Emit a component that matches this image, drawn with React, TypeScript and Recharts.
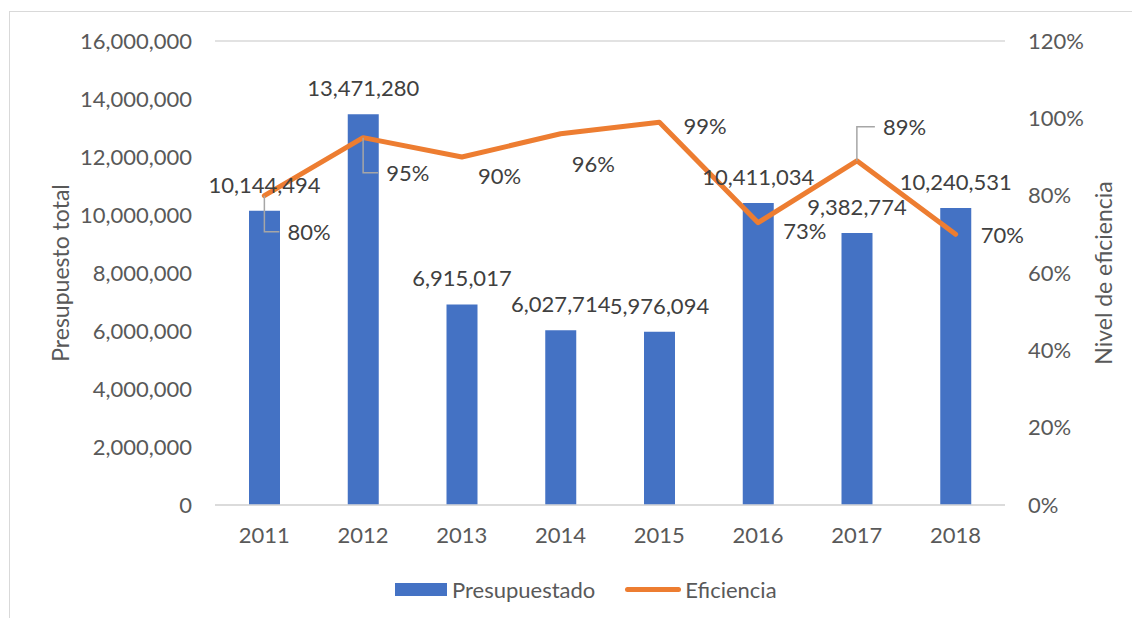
import React from "react";
import {
  ComposedChart,
  Bar,
  Line,
  XAxis,
  YAxis,
  CartesianGrid,
  Legend,
  LabelList,
} from "recharts";

const years = ["2011", "2012", "2013", "2014", "2015", "2016", "2017", "2018"];
const presupuestado = [
  10144494, 13471280, 6915017, 6027714, 5976094, 10411034, 9382774, 10240531,
];
const eficiencia = [0.8, 0.95, 0.9, 0.96, 0.99, 0.73, 0.89, 0.7];
const budgetTicks = [0, 2000000, 4000000, 6000000, 8000000, 10000000, 12000000, 14000000, 16000000];
const efficiencyTicks = [0, 0.2, 0.4, 0.6, 0.8, 1.0, 1.2];

const data = years.map((year, i) => ({
  year,
  presupuestado: presupuestado[i],
  eficiencia: eficiencia[i],
}));

// where Excel left each percentage label, relative to its point (dx to text start, dy to text middle)
const lineLabelNudge = [
  [23, 36],
  [23, 35],
  [16, 19],
  [11, 30],
  [24, 4],
  [25, 8],
  [26, -34],
  [25, 1],
];

const FONT = "Lato, 'Noto Sans', sans-serif";
const BLUE = "#4472C4";
const ORANGE = "#ED7D31";
const GREY = "#595959";

const fmtNumber = (v: number) => v.toLocaleString("en-US");
const fmtPct = (v: number) => `${Math.round(v * 100)}%`;

const PctLabel = (props: any) => {
  const { x, y, value, index } = props;
  const [dx, dy] = lineLabelNudge[index] || [20, 0];
  const tx = x + dx;
  const ty = y + dy;
  return (
    <g>
      {Math.abs(dy) > 32 && (
        <path
          d={`M${x},${y} V${ty} H${tx - 8}`}
          fill="none"
          stroke="#a6a6a6"
          strokeWidth={1.5}
        />
      )}
      <text
        x={tx}
        y={ty}
        dy="0.36em"
        fill="#404040"
        fontSize={22}
        fontFamily={FONT}
      >
        {fmtPct(value)}
      </text>
    </g>
  );
};

const AxisTitle = ({ viewBox, value, dx }: any) => {
  const x = viewBox.x + dx;
  const y = viewBox.y + viewBox.height / 2;
  return (
    <text
      x={x}
      y={y}
      transform={`rotate(-90 ${x} ${y})`}
      textAnchor="middle"
      dominantBaseline="central"
      fill={GREY}
      fontSize={23}
      fontFamily={FONT}
    >
      {value}
    </text>
  );
};

const ChartLegend = () => (
  <div
    style={{
      display: "flex",
      alignItems: "center",
      height: 30,
      fontFamily: FONT,
      fontSize: 22,
      color: GREY,
    }}
  >
    <span style={{ width: 52, height: 13, background: BLUE, marginRight: 5 }} />
    <span>Presupuestado</span>
    <span
      style={{
        width: 56,
        height: 5,
        borderRadius: 3,
        background: ORANGE,
        marginLeft: 30,
        marginRight: 4,
      }}
    />
    <span>Eficiencia</span>
  </div>
);

export default function App() {
  return (
    <div style={{ position: "relative", width: 1132, height: 610, overflow: "hidden" }}>
      <div
        style={{
          position: "absolute",
          left: 1,
          top: 3,
          width: 1300,
          height: 800,
          border: "1px solid #d9d9d9",
        }}
      />
      <ComposedChart
        width={1132}
        height={610}
        data={data}
        margin={{ top: 33, right: 0, bottom: 0, left: 0 }}
        style={{ position: "absolute", left: 0, top: 0 }}
      >
        <CartesianGrid vertical={false} stroke="#d9d9d9" strokeWidth={1.5} />
        <XAxis
          dataKey="year"
          height={83}
          axisLine={{ stroke: "#d9d9d9", strokeWidth: 1.5 }}
          tickLine={false}
          tickMargin={16}
          tick={{ fill: GREY, fontSize: 22, fontFamily: FONT }}
        />
        <YAxis
          yAxisId="left"
          width={207}
          domain={[0, 16000000]}
          ticks={budgetTicks}
          tickFormatter={fmtNumber}
          axisLine={false}
          tickLine={false}
          tickMargin={17}
          tick={{ fill: GREY, fontSize: 22, fontFamily: FONT }}
          label={(p: any) => <AxisTitle {...p} value="Presupuesto total" dx={52} />}
        />
        <YAxis
          yAxisId="right"
          orientation="right"
          width={135}
          domain={[0, 1.2]}
          ticks={efficiencyTicks}
          tickFormatter={fmtPct}
          axisLine={false}
          tickLine={false}
          tickMargin={17}
          tick={{ fill: GREY, fontSize: 22, fontFamily: FONT }}
          label={(p: any) => <AxisTitle {...p} value="Nivel de eficiencia" dx={98} />}
        />
        <Legend
          verticalAlign="bottom"
          content={<ChartLegend />}
          wrapperStyle={{ left: 387, bottom: 14, width: "auto", height: 30 }}
        />
        <Bar
          yAxisId="left"
          dataKey="presupuestado"
          name="Presupuestado"
          fill={BLUE}
          barSize={31}
          isAnimationActive={false}
        >
          <LabelList
            dataKey="presupuestado"
            position="top"
            offset={18}
            formatter={(v: any) => fmtNumber(Number(v))}
            fill="#404040"
            fontSize={22}
            fontFamily={FONT}
          />
        </Bar>
        <Line
          yAxisId="right"
          dataKey="eficiencia"
          name="Eficiencia"
          stroke={ORANGE}
          strokeWidth={5}
          strokeLinecap="round"
          strokeLinejoin="round"
          dot={false}
          activeDot={false}
          isAnimationActive={false}
        >
          <LabelList dataKey="eficiencia" content={<PctLabel />} />
        </Line>
      </ComposedChart>
    </div>
  );
}
